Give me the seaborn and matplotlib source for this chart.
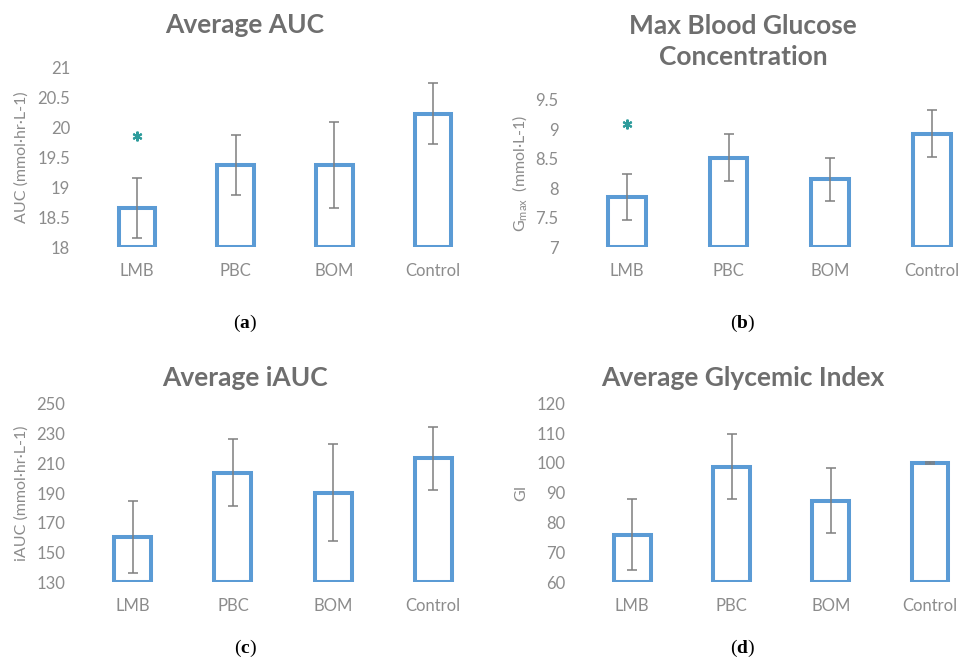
import matplotlib
matplotlib.use("Agg")
import matplotlib.pyplot as plt
import seaborn as sns
import pandas as pd

# Data
GROUPS = ['LMB', 'PBC', 'BOM', 'Control']

auc_mean = [18.65, 19.37, 19.37, 20.22]
auc_sd = [0.50, 0.50, 0.72, 0.51]

gmax_mean = [7.85, 8.52, 8.15, 8.93]
gmax_sd = [0.39, 0.40, 0.37, 0.40]

iauc_mean = [160.7, 203.8, 190.3, 213.4]
iauc_sd = [24.2, 22.7, 32.5, 21.4]

gi_mean = [76.0, 98.7, 87.4, 100.0]
gi_sd = [12.0, 10.9, 10.9, 0.3]

BAR_COLOR = '#5B9BD5'
ERR_COLOR = '#7F7F7F'
TITLE_COLOR = '#6E6E6E'
TICK_COLOR = '#8C8C8C'
STAR_COLOR = '#2E9C9C'

sns.set_style('white')
plt.rcParams['font.family'] = ['Lato', 'DejaVu Sans']
plt.rcParams['mathtext.fontset'] = 'custom'
plt.rcParams['mathtext.bf'] = 'Liberation Serif:bold'

fig = plt.figure(figsize=(9.58, 6.59), dpi=100)


def px_axes(x0, x1, y_top, y_bot):
    W, H = 958, 659
    return fig.add_axes([x0 / W, (H - y_bot) / H, (x1 - x0) / W, (y_bot - y_top) / H])


def draw_panel(ax, means, sds, ylo, yhi, ticks, ticklabels, title, ylabel,
               title_xy, ylabel_x, star=None):
    df = pd.DataFrame({'group': GROUPS, 'mean': means, 'sd': sds})
    df['height'] = df['mean'] - ylo
    sns.barplot(data=df, x='group', y='height', ax=ax, errorbar=None,
                color='white', edgecolor=BAR_COLOR, linewidth=2.9,
                width=0.37, bottom=ylo, saturation=1)
    ax.errorbar(range(len(GROUPS)), df['mean'], yerr=df['sd'], fmt='none',
                ecolor=ERR_COLOR, elinewidth=1.1, capsize=3.5, capthick=1.1, zorder=5)
    ax.set_xlim(-0.5, len(GROUPS) - 0.5)
    ax.set_ylim(ylo, yhi)
    ax.set_yticks(ticks)
    ax.set_yticklabels(ticklabels)
    ax.tick_params(axis='both', length=0, labelsize=12, labelcolor=TICK_COLOR)
    ax.tick_params(axis='y', pad=12.5)
    ax.tick_params(axis='x', pad=11.5)
    ax.set_xlabel('')
    ax.set_ylabel(ylabel, fontsize=11.5, color=TICK_COLOR)
    ax.yaxis.label.set_va('center')
    ax.yaxis.set_label_coords(ylabel_x, 0.5)
    sns.despine(ax=ax, left=True, bottom=True)
    ax.grid(False)
    ax.text(title_xy[0], title_xy[1], title, transform=ax.transAxes,
            ha='center', va='center', fontsize=19, fontweight='bold',
            color=TITLE_COLOR, linespacing=1.38)
    if star is not None:
        ax.plot([star[0]], [star[1]], linestyle='none', marker=(6, 2, 0),
                markersize=7, markeredgewidth=1.5, color=STAR_COLOR, zorder=6)


ax_a = px_axes(87.5, 482.5, 67, 247)
draw_panel(ax_a, auc_mean, auc_sd, 18, 21,
           [18, 18.5, 19, 19.5, 20, 20.5, 21],
           ['18', '18.5', '19', '19.5', '20', '20.5', '21'],
           'Average AUC', 'AUC (mmol·hr·L-1)', (0.399, 1.233), -0.166,
           star=(0, 19.85))

ax_b = px_axes(576, 982.8, 100, 247)
draw_panel(ax_b, gmax_mean, gmax_sd, 7, 9.5,
           [7, 7.5, 8, 8.5, 9, 9.5],
           ['7', '7.5', '8', '8.5', '9', '9.5'],
           'Max Blood Glucose\nConcentration',
           r'G$_{\mathregular{max}}$  (mmol·L-1)', (0.4105, 1.398), -0.138,
           star=(0, 9.09))

ax_c = px_axes(82.6, 483.4, 404, 582.3)
draw_panel(ax_c, iauc_mean, iauc_sd, 130, 250,
           [130, 150, 170, 190, 210, 230, 250],
           ['130', '150', '170', '190', '210', '230', '250'],
           'Average iAUC', 'iAUC (mmol·hr·L-1)', (0.405, 1.146), -0.152)

ax_d = px_axes(582.7, 979.6, 403.3, 582.3)
draw_panel(ax_d, gi_mean, gi_sd, 60, 120,
           [60, 70, 80, 90, 100, 110, 120],
           ['60', '70', '80', '90', '100', '110', '120'],
           'Average Glycemic Index', 'GI', (0.404, 1.141), -0.154)

# panel letters
for label, x, y in [('a', 245, 323), ('b', 743, 323), ('c', 245, 648), ('d', 743, 648)]:
    fig.text(x / 958, 1 - y / 659, r'($\mathbf{' + label + '}$)', ha='center', va='center',
             fontsize=14, family='Liberation Serif', color='black')

fig.savefig('out.png', dpi=100)
